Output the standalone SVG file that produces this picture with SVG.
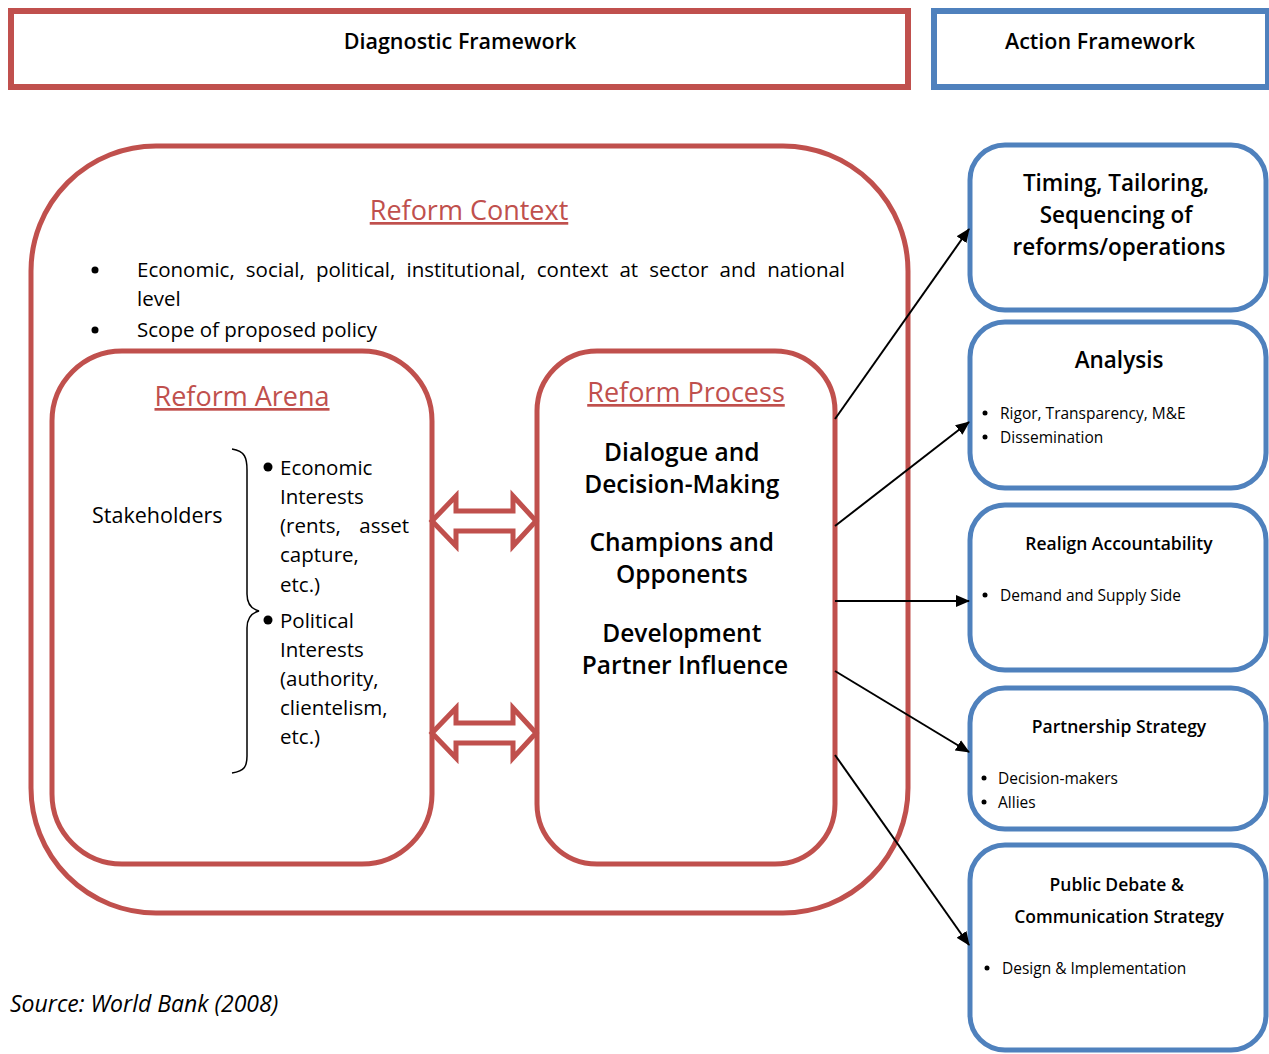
<svg xmlns="http://www.w3.org/2000/svg" width="1269" height="1054" viewBox="0 0 1269 1054">
<defs>
<marker id="ah" markerWidth="14" markerHeight="12" refX="13" refY="6" orient="auto" markerUnits="userSpaceOnUse" viewBox="0 0 14 12">
<path d="M0,0 L14,6 L0,12 Z" fill="#000"/>
</marker>
</defs>
<style>
.red{fill:#fff;stroke:#c0504d;stroke-width:5}
.blue{fill:#fff;stroke:#4f81bd;stroke-width:5}
.t{font-family:"Open Sans","Noto Sans",sans-serif;fill:#000}
.sb{font-weight:600}
.rt{font-family:"Open Sans","Noto Sans",sans-serif;fill:#c0504d;text-decoration:underline}
.c{text-anchor:middle}
.conn line{stroke:#000;stroke-width:2;marker-end:url(#ah)}
.dbl{fill:#fff;stroke:#c0504d;stroke-width:5;stroke-linejoin:miter}
</style>
<rect width="1269" height="1054" fill="#fff"/>

<g id="diagnostic-framework">
<rect x="11" y="11" width="897" height="76" fill="#fff" stroke="#c0504d" stroke-width="6"/>
<text class="t sb c" x="460" y="49" font-size="21.5">Diagnostic Framework</text>
</g>
<g id="action-framework">
<rect x="934" y="11" width="334" height="76" fill="#fff" stroke="#4f81bd" stroke-width="6"/>
<text class="t sb c" x="1100" y="49" font-size="21.5">Action Framework</text>
</g>

<g id="reform-context">
<rect class="red" x="31" y="146" width="877" height="767" rx="125" ry="125"/>
<text class="rt c" x="469" y="220" font-size="27">Reform Context</text>
<circle cx="95" cy="270" r="3.5" fill="#000"/>
<text class="t" x="137" y="277" font-size="20.5" word-spacing="5.8">Economic, social, political, institutional, context at sector and national</text>
<text class="t" x="137" y="306" font-size="20.5">level</text>
<circle cx="95" cy="330" r="3.5" fill="#000"/>
<text class="t" x="137" y="337" font-size="20.5">Scope of proposed policy</text>
</g>

<g id="reform-arena">
<rect class="red" x="52" y="351" width="380" height="513" rx="70" ry="70"/>
<text class="rt c" x="242" y="406" font-size="27">Reform Arena</text>
<text class="t" x="92" y="523" font-size="21.5">Stakeholders</text>
<path d="M232,449 C245,451 247,458 247,470 L247,594 C247,604 251,609 259,611 C251,613 247,618 247,628 L247,756 C247,766 245,771 232,773" fill="none" stroke="#000" stroke-width="1.5"/>
<circle cx="268" cy="467" r="4.5" fill="#000"/>
<text class="t" font-size="20.5">
<tspan x="280" y="475">Economic</tspan>
<tspan x="280" y="504">Interests</tspan>
<tspan x="280" y="533">(rents,</tspan>
<tspan x="280" y="562">capture,</tspan>
<tspan x="280" y="592">etc.)</tspan>
</text>
<text class="t" x="409" y="533" font-size="20.5" text-anchor="end">asset</text>
<circle cx="268" cy="620" r="4.5" fill="#000"/>
<text class="t" font-size="20.5">
<tspan x="280" y="628">Political</tspan>
<tspan x="280" y="657">Interests</tspan>
<tspan x="280" y="686">(authority,</tspan>
<tspan x="280" y="715">clientelism,</tspan>
<tspan x="280" y="744">etc.)</tspan>
</text>
</g>

<g id="reform-process">
<rect class="red" x="537" y="351" width="298" height="513" rx="60" ry="60"/>
<text class="rt c" x="686" y="402" font-size="27">Reform Process</text>
<text class="t sb c" font-size="24.5">
<tspan x="685" y="461">Dialogue and</tspan>
<tspan x="685" y="493">Decision-Making</tspan>
<tspan x="685" y="551">Champions and</tspan>
<tspan x="685" y="583">Opponents</tspan>
<tspan x="685" y="642">Development</tspan>
<tspan x="685" y="674">Partner Influence</tspan>
</text>
</g>

<g id="double-arrows">
<path class="dbl" d="M432,521 L456,496 L456,511 L513,511 L513,496 L536,521 L513,546 L513,531 L456,531 L456,546 Z"/>
<path class="dbl" d="M432,733 L456,708 L456,723 L513,723 L513,708 L536,733 L513,758 L513,743 L456,743 L456,758 Z"/>
</g>

<g id="timing">
<rect class="blue" x="970" y="145" width="296" height="165" rx="35" ry="35"/>
<text class="t sb c" font-size="22.5">
<tspan x="1119" y="191">Timing, Tailoring,</tspan>
<tspan x="1119" y="223">Sequencing of</tspan>
<tspan x="1119" y="255">reforms/operations</tspan>
</text>
</g>
<g id="analysis">
<rect class="blue" x="970" y="322" width="296" height="166" rx="35" ry="35"/>
<text class="t sb c" x="1119" y="368" font-size="22.5">Analysis</text>
<circle cx="985" cy="413" r="2.5" fill="#000"/>
<text class="t" x="1000" y="419" font-size="15.5">Rigor, Transparency, M&amp;E</text>
<circle cx="985" cy="437" r="2.5" fill="#000"/>
<text class="t" x="1000" y="443" font-size="15.5">Dissemination</text>
</g>
<g id="realign">
<rect class="blue" x="970" y="505" width="296" height="165" rx="35" ry="35"/>
<text class="t sb c" x="1119" y="550" font-size="17.5">Realign Accountability</text>
<circle cx="985" cy="595" r="2.5" fill="#000"/>
<text class="t" x="1000" y="601" font-size="15.5">Demand and Supply Side</text>
</g>
<g id="partnership">
<rect class="blue" x="970" y="688" width="296" height="141" rx="35" ry="35"/>
<text class="t sb c" x="1119" y="733" font-size="17.5">Partnership Strategy</text>
<circle cx="984" cy="778" r="2.5" fill="#000"/>
<text class="t" x="998" y="784" font-size="15.5">Decision-makers</text>
<circle cx="984" cy="802" r="2.5" fill="#000"/>
<text class="t" x="998" y="808" font-size="15.5">Allies</text>
</g>
<g id="public-debate">
<rect class="blue" x="970" y="845" width="296" height="205" rx="35" ry="35"/>
<text class="t sb c" font-size="17.5">
<tspan x="1119" y="891">Public Debate &amp;</tspan>
<tspan x="1119" y="923">Communication Strategy</tspan>
</text>
<circle cx="987" cy="968" r="2.5" fill="#000"/>
<text class="t" x="1002" y="974" font-size="15.5">Design &amp; Implementation</text>
</g>

<g id="connectors" class="conn">
<line x1="835" y1="419" x2="969" y2="229"/>
<line x1="835" y1="526" x2="969" y2="422"/>
<line x1="835" y1="601" x2="969" y2="601"/>
<line x1="835" y1="671" x2="969" y2="752"/>
<line x1="835" y1="755" x2="969" y2="945"/>
</g>

<text class="t" x="10" y="1012" font-size="23" font-style="italic" fill="#222">Source: World Bank (2008)</text>
</svg>
